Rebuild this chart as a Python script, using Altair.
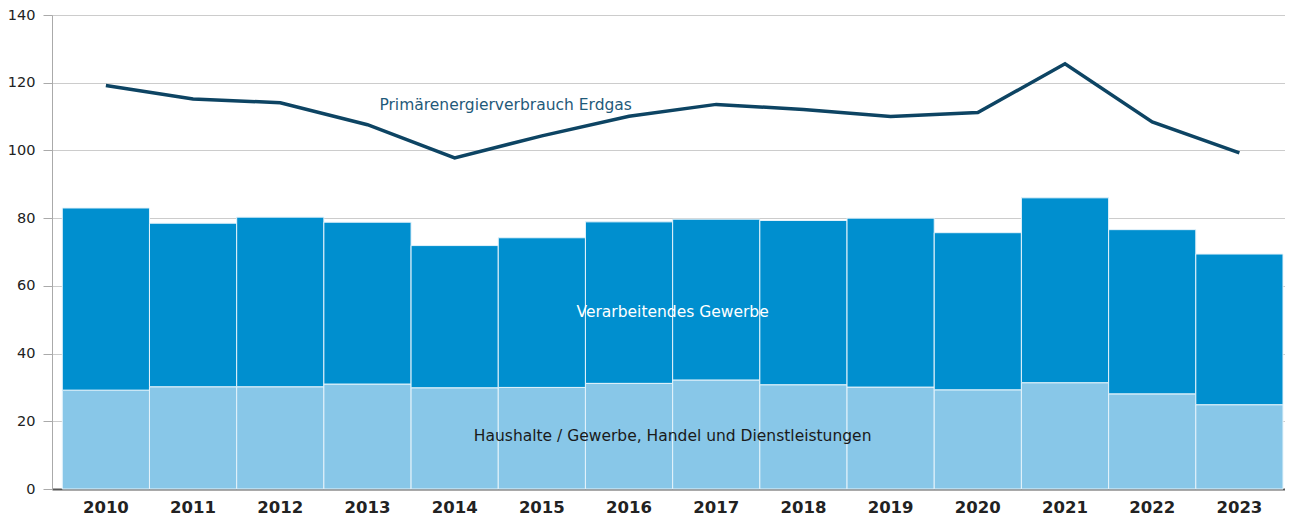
import altair as alt
import pandas as pd

years = [str(y) for y in range(2010, 2024)]
haushalte = [29.2, 30.2, 30.2, 31.0, 29.9, 30.0, 31.2, 32.2, 30.8, 30.1, 29.3, 31.4, 28.1, 24.9]
verarbeitend = [53.8, 48.3, 50.1, 47.8, 42.0, 44.2, 47.7, 47.5, 48.5, 49.9, 46.4, 54.6, 48.5, 44.5]
primaer = [119.2, 115.2, 114.1, 107.6, 97.8, 104.3, 110.1, 113.6, 112.1, 110.0, 111.2, 125.6, 108.4, 99.3]

series_names = ["Haushalte / Gewerbe, Handel und Dienstleistungen", "Verarbeitendes Gewerbe"]
bar_colors = ["#88c7e8", "#008fcf"]
line_color = "#0d4463"
y_ticks = [0, 20, 40, 60, 80, 100, 120, 140]

label_primaer = "Primärenergierverbrauch Erdgas"

FONT = "DejaVu Sans"

rows = []
for i, yr in enumerate(years):
    rows.append({"Jahr": yr, "Sektor": series_names[0], "Wert": haushalte[i], "Ordnung": 0})
    rows.append({"Jahr": yr, "Sektor": series_names[1], "Wert": verarbeitend[i], "Ordnung": 1})
bars_df = pd.DataFrame(rows)
line_df = pd.DataFrame({"Jahr": years, "Wert": primaer})

xscale = alt.Scale(domain=years, paddingInner=0, paddingOuter=0.0705, align=0.837)
yscale = alt.Scale(domain=[0, 140], nice=False, zero=True)

x_enc = alt.X(
    "Jahr:N",
    scale=xscale,
    sort=years,
    axis=alt.Axis(
        title=None, labelAngle=0, labelFont=FONT, labelFontSize=16.5, labelFontWeight="bold",
        labelColor="#222222", ticks=False, domainColor="#555555", domainWidth=2,
        labelPadding=10, grid=False,
    ),
)
y_axis = alt.Axis(
    title=None, values=y_ticks, grid=True, gridColor="#cccccc", gridWidth=1,
    domainColor="#aaaaaa", tickColor="#aaaaaa", tickSize=9, labelPadding=8,
    labelFont=FONT, labelFontSize=14.5, labelColor="#222222",
)

bars = alt.Chart(bars_df).mark_bar(stroke="#e4f3fb", strokeWidth=1).encode(
    x=x_enc,
    y=alt.Y("Wert:Q", stack="zero", scale=yscale, axis=y_axis),
    color=alt.Color("Sektor:N", scale=alt.Scale(domain=series_names, range=bar_colors), legend=None),
    order=alt.Order("Ordnung:Q", sort="ascending"),
)

line = alt.Chart(line_df).mark_line(color=line_color, strokeWidth=3.5).encode(
    x=alt.X("Jahr:N", scale=xscale, sort=years),
    y=alt.Y("Wert:Q", scale=yscale),
)

lab1 = alt.Chart(pd.DataFrame({"Jahr": ["2014"], "Wert": [113.4], "t": [label_primaer]})).mark_text(
    font=FONT, fontSize=15.5, color="#1f5a7a", dx=51, align="center", baseline="middle"
).encode(x=alt.X("Jahr:N", scale=xscale, sort=years), y=alt.Y("Wert:Q", scale=yscale), text="t:N")

lab2 = alt.Chart(pd.DataFrame({"Jahr": ["2016"], "Wert": [52.2], "t": [series_names[1]]})).mark_text(
    font=FONT, fontSize=15.5, color="white", dx=43.6, align="center", baseline="middle"
).encode(x=alt.X("Jahr:N", scale=xscale, sort=years), y=alt.Y("Wert:Q", scale=yscale), text="t:N")

lab3 = alt.Chart(pd.DataFrame({"Jahr": ["2016"], "Wert": [15.7], "t": [series_names[0]]})).mark_text(
    font=FONT, fontSize=15.5, color="#1a1a1a", dx=43.6, align="center", baseline="middle"
).encode(x=alt.X("Jahr:N", scale=xscale, sort=years), y=alt.Y("Wert:Q", scale=yscale), text="t:N")

chart = alt.layer(bars, line, lab1, lab2, lab3).properties(
    width=1233,
    height=474,
    autosize=alt.AutoSizeParams(type="none"),
    padding={"left": 44, "top": 7, "right": 0, "bottom": 30},
).configure_view(stroke="#cccccc", strokeWidth=1).configure(background="white")

chart.save("out.html", embed_options={"renderer": "svg", "actions": False})
